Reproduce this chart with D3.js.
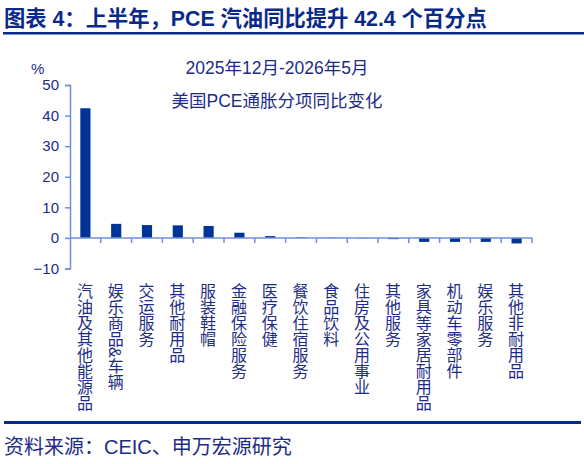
<!DOCTYPE html>
<html><head><meta charset="utf-8">
<script src="https://cdn.jsdelivr.net/npm/d3@7"></script>
<style>body{margin:0;background:#fff}svg{display:block}</style>
</head><body>
<svg id="c" width="584" height="464"></svg>
<script>
const categories = ["汽油及其他能源品","娱乐商品&车辆","交运服务","其他耐用品","服装鞋帽","金融保险服务","医疗保健","餐饮住宿服务","食品饮料","住房及公用事业","其他服务","家具等家居耐用品","机动车零部件","娱乐服务","其他非耐用品"];
const values = [42.4, 4.6, 4.2, 4.1, 3.9, 1.7, 0.6, 0.2, 0.1, -0.1, -0.4, -1.3, -1.3, -1.3, -1.8];
const yTicks = [-10, 0, 10, 20, 30, 40, 50];
const titleText = "图表 4：上半年，PCE 汽油同比提升 42.4 个百分点";
const subtitle1 = "2025年12月-2026年5月";
const subtitle2 = "美国PCE通胀分项同比变化";
const sourceText = "资料来源：CEIC、申万宏源研究";

const svg = d3.select("#c");
const font = "Arial, 'Liberation Sans', 'Noto Sans CJK SC', sans-serif";
const navy = "#1d2c85";
const barColor = "#003399";
const axisColor = "#6f8fd6";

// title
svg.append("text").attr("x", 4).attr("y", 26).attr("font-family", font)
  .attr("font-size", 21.3).attr("font-weight", "bold").attr("fill", "#0a2a8a").text(titleText);
svg.append("rect").attr("x", 3).attr("y", 32).attr("width", 581).attr("height", 2.5).attr("fill", "#0a2a8a");

const x = d3.scaleBand().domain(categories).range([70, 532]).paddingInner(0.67).paddingOuter(0.335);
const y = d3.scaleLinear().domain([-10, 50]).range([268.5, 85]);

// subtitle
svg.append("text").attr("x", 277).attr("y", 74).attr("text-anchor", "middle").attr("font-family", font)
  .attr("font-size", 17.5).attr("fill", navy).text(subtitle1);
svg.append("text").attr("x", 277).attr("y", 107).attr("text-anchor", "middle").attr("font-family", font)
  .attr("font-size", 17.5).attr("fill", navy).text(subtitle2);
svg.append("text").attr("x", 31).attr("y", 74).attr("font-family", font)
  .attr("font-size", 15).attr("fill", navy).text("%");

// bars
svg.append("g").selectAll("rect").data(values).join("rect")
  .attr("x", (d, i) => x(categories[i]))
  .attr("width", x.bandwidth())
  .attr("y", d => y(Math.max(0, d)))
  .attr("height", d => Math.abs(y(d) - y(0)))
  .attr("fill", barColor);

// y axis
const yAxis = svg.append("g").attr("transform", "translate(70,0)")
  .call(d3.axisLeft(y).tickValues(yTicks).tickSize(5).tickPadding(6));
yAxis.select(".domain").attr("stroke", axisColor).attr("stroke-width", 1.5);
yAxis.selectAll(".tick line").attr("stroke", axisColor).attr("stroke-width", 1.5);
yAxis.selectAll("text").attr("font-family", font).attr("font-size", 15).attr("fill", navy);

// x axis at 0
const xg = svg.append("g").attr("transform", `translate(0,${y(0)})`);
xg.append("line").attr("x1", 70).attr("x2", 532).attr("y1", 0).attr("y2", 0)
  .attr("stroke", axisColor).attr("stroke-width", 1.5);
const step = x.step();
const bounds = categories.map(c => x(c) + x.bandwidth() + (step - x.bandwidth()) / 2);
xg.selectAll("line.t").data(bounds).join("line").attr("class", "t")
  .attr("x1", d => d).attr("x2", d => d).attr("y1", 0).attr("y2", 5)
  .attr("stroke", axisColor).attr("stroke-width", 1.5);

// category labels (vertical)
svg.append("g").selectAll("text").data(categories).join("text")
  .attr("x", d => x(d) + x.bandwidth() / 2 - 2)
  .attr("y", 283)
  .attr("writing-mode", "tb")
  .style("writing-mode", "vertical-rl")
  .attr("font-family", font).attr("font-size", 16).attr("fill", navy)
  .text(d => d);

// bottom rule and source
svg.append("rect").attr("x", 4).attr("y", 421).attr("width", 577).attr("height", 3).attr("fill", "#0a2a8a");
svg.append("text").attr("x", 4).attr("y", 454).attr("font-family", font)
  .attr("font-size", 20).attr("fill", navy).text(sourceText);
</script>
</body></html>
